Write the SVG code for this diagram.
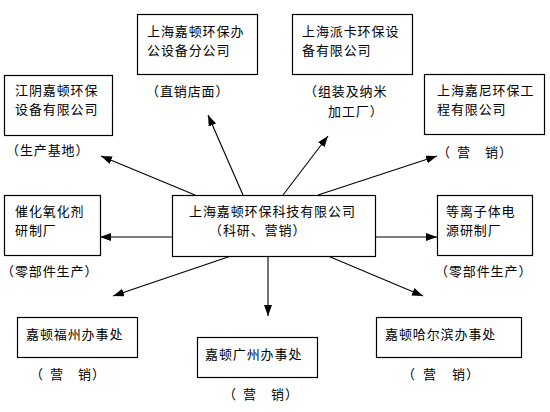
<svg xmlns="http://www.w3.org/2000/svg" width="550" height="412" viewBox="0 0 550 412">
<style>
text{font-family:"Noto Sans CJK SC","Noto Sans",sans-serif;font-size:13px;letter-spacing:0.9px;fill:#000}
rect{fill:#fff;stroke:#000;stroke-width:1.2}
.c line{stroke:#000;stroke-width:1.1}
</style>
<defs>
<marker id="ah" markerUnits="userSpaceOnUse" markerWidth="12" markerHeight="10" refX="11" refY="4" orient="auto">
<path d="M0,0 L11,4 L0,8 z" fill="#000"/>
</marker>
</defs>
<rect x="0" y="0" width="550" height="412" style="stroke:none"/>
<g class="c" id="connectors">
<line x1="195" y1="195" x2="101" y2="156" marker-end="url(#ah)"/>
<line x1="243" y1="195" x2="208" y2="115" marker-end="url(#ah)"/>
<line x1="283" y1="195" x2="328" y2="136" marker-end="url(#ah)"/>
<line x1="318" y1="195" x2="437" y2="156" marker-end="url(#ah)"/>
<line x1="172" y1="237" x2="100" y2="237" marker-end="url(#ah)"/>
<line x1="376" y1="237" x2="437" y2="237" marker-end="url(#ah)"/>
<line x1="231" y1="256" x2="113" y2="296" marker-end="url(#ah)"/>
<line x1="268" y1="256" x2="268" y2="316" marker-end="url(#ah)"/>
<line x1="328" y1="256" x2="423" y2="296" marker-end="url(#ah)"/>
</g>
<g id="center">
<rect x="172.5" y="195.5" width="203" height="61"/>
<text x="189" y="216">上海嘉顿环保科技有限公司</text>
<text x="209" y="235">（科研、营销）</text>
</g>
<g id="office">
<rect x="137.5" y="14.5" width="120" height="60"/>
<text x="147" y="36">上海嘉顿环保办</text>
<text x="147" y="55">公设备分公司</text>
<text x="146" y="96">（直销店面）</text>
</g>
<g id="paika">
<rect x="292.5" y="14.5" width="120" height="60"/>
<text x="302" y="36">上海派卡环保设</text>
<text x="302" y="55">备有限公司</text>
<text x="304" y="96">（组装及纳米</text>
<text x="328" y="116">加工厂）</text>
</g>
<g id="jiangyin">
<rect x="4.5" y="75.5" width="108" height="60"/>
<text x="15" y="95">江阴嘉顿环保</text>
<text x="15" y="114">设备有限公司</text>
<text x="6" y="155">（生产基地）</text>
</g>
<g id="jiani">
<rect x="424.5" y="74.5" width="120" height="60"/>
<text x="437" y="95">上海嘉尼环保工</text>
<text x="437" y="114">程有限公司</text>
<text x="437 457 485 499" y="157">（营销）</text>
</g>
<g id="cuihua">
<rect x="4.5" y="195.5" width="96" height="60"/>
<text x="15" y="216">催化氧化剂</text>
<text x="15" y="235">研制厂</text>
<text x="1" y="276">（零部件生产）</text>
</g>
<g id="plasma">
<rect x="437.5" y="195.5" width="95" height="60"/>
<text x="446" y="216">等离子体电</text>
<text x="446" y="235">源研制厂</text>
<text x="435" y="276">（零部件生产）</text>
</g>
<g id="fuzhou">
<rect x="17.5" y="317.5" width="120" height="40"/>
<text x="26" y="339">嘉顿福州办事处</text>
<text x="30 50 78 92" y="379">（营销）</text>
</g>
<g id="guangzhou">
<rect x="197.5" y="337.5" width="120" height="40"/>
<text x="205" y="359">嘉顿广州办事处</text>
<text x="223 243 271 285" y="399">（营销）</text>
</g>
<g id="harbin">
<rect x="376.5" y="317.5" width="145" height="40"/>
<text x="385" y="339">嘉顿哈尔滨办事处</text>
<text x="402 423 452 466" y="379">（营销）</text>
</g>
</svg>
